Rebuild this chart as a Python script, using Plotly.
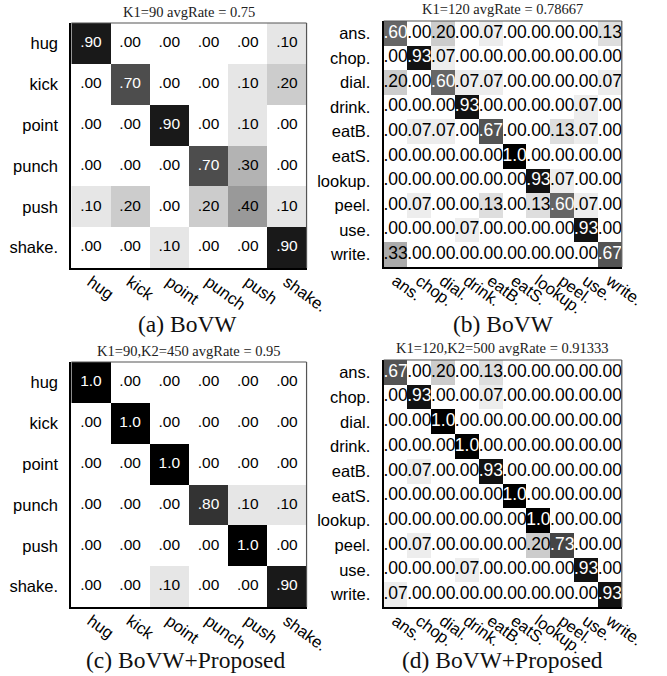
import plotly.graph_objects as go

W, H = 667, 676

labels6 = ['hug', 'kick', 'point', 'punch', 'push', 'shake.']
labels10 = ['ans.', 'chop.', 'dial.', 'drink.', 'eatB.', 'eatS.', 'lookup.', 'peel.', 'use.', 'write.']

mat_a = [
    [.90, .00, .00, .00, .00, .10],
    [.00, .70, .00, .00, .10, .20],
    [.00, .00, .90, .00, .10, .00],
    [.00, .00, .00, .70, .30, .00],
    [.10, .20, .00, .20, .40, .10],
    [.00, .00, .10, .00, .00, .90],
]
mat_b = [
    [.60, .00, .20, .00, .07, .00, .00, .00, .00, .13],
    [.00, .93, .07, .00, .00, .00, .00, .00, .00, .00],
    [.20, .00, .60, .07, .07, .00, .00, .00, .00, .07],
    [.00, .00, .00, .93, .00, .00, .00, .00, .07, .00],
    [.00, .07, .07, .00, .67, .00, .00, .13, .07, .00],
    [.00, .00, .00, .00, .00, 1.0, .00, .00, .00, .00],
    [.00, .00, .00, .00, .00, .00, .93, .07, .00, .00],
    [.00, .07, .00, .00, .13, .00, .13, .60, .07, .00],
    [.00, .00, .00, .07, .00, .00, .00, .00, .93, .00],
    [.33, .00, .00, .00, .00, .00, .00, .00, .00, .67],
]
mat_c = [
    [1.0, .00, .00, .00, .00, .00],
    [.00, 1.0, .00, .00, .00, .00],
    [.00, .00, 1.0, .00, .00, .00],
    [.00, .00, .00, .80, .10, .10],
    [.00, .00, .00, .00, 1.0, .00],
    [.00, .00, .10, .00, .00, .90],
]
mat_d = [
    [.67, .00, .20, .00, .13, .00, .00, .00, .00, .00],
    [.00, .93, .00, .00, .07, .00, .00, .00, .00, .00],
    [.00, .00, 1.0, .00, .00, .00, .00, .00, .00, .00],
    [.00, .00, .00, 1.0, .00, .00, .00, .00, .00, .00],
    [.00, .07, .00, .00, .93, .00, .00, .00, .00, .00],
    [.00, .00, .00, .00, .00, 1.0, .00, .00, .00, .00],
    [.00, .00, .00, .00, .00, .00, 1.0, .00, .00, .00],
    [.00, .07, .00, .00, .00, .00, .20, .73, .00, .00],
    [.00, .00, .00, .07, .00, .00, .00, .00, .93, .00],
    [.07, .00, .00, .00, .00, .00, .00, .00, .00, .93],
]

titles = ['K1=90 avgRate = 0.75', 'K1=120 avgRate = 0.78667',
          'K1=90,K2=450 avgRate = 0.95', 'K1=120,K2=500 avgRate = 0.91333']
captions = ['(a) BoVW', '(b) BoVW', '(c) BoVW+Proposed', '(d) BoVW+Proposed']

# panel boxes in pixels: (x0, x1, ytop, ybottom)
boxes = [(74, 318, 23, 268), (398, 645, 21, 267), (74, 318, 362, 607), (398, 645, 360, 607)]
title_y = [12, 9, 351, 348]
cap_pos = [(195, 324), (522, 324), (193, 660), (521, 660)]

panels = [(mat_a, labels6, 16.5, 15.5), (mat_b, labels10, 16.5, 17.5),
          (mat_c, labels6, 16.5, 15.5), (mat_d, labels10, 16.5, 17.5)]


def fmt(v):
    if v >= 0.995:
        return '1.0'
    return ('%.2f' % v)[1:]


fig = go.Figure()
annotations = []
shapes = []
layout_axes = {}
for i, ((mat, labs, lab_fs, num_fs), (x0, x1, yt, yb)) in enumerate(zip(panels, boxes)):
    n = i + 1
    xa = 'x' if n == 1 else 'x%d' % n
    ya = 'y' if n == 1 else 'y%d' % n
    fig.add_trace(go.Heatmap(
        z=mat, x=labs, y=labs, xaxis=xa, yaxis=ya,
        colorscale=[[0, 'white'], [1, 'black']], zmin=0, zmax=1,
        showscale=False, hoverinfo='skip', xgap=0, ygap=0))
    xs, ys, ts, cs = [], [], [], []
    for r, row in enumerate(mat):
        for c, v in enumerate(row):
            xs.append(labs[c]); ys.append(labs[r]); ts.append(fmt(v))
            cs.append('white' if v >= 0.5 else 'black')
    fig.add_trace(go.Scatter(
        x=xs, y=ys, text=ts, mode='text', xaxis=xa, yaxis=ya,
        textfont=dict(family='Liberation Sans, Arial', size=num_fs, color=cs),
        hoverinfo='skip', showlegend=False))
    xkey = 'xaxis' if n == 1 else 'xaxis%d' % n
    ykey = 'yaxis' if n == 1 else 'yaxis%d' % n
    layout_axes[xkey] = dict(
        domain=[x0 / W, x1 / W], anchor=ya, type='category',
        tickangle=36, showgrid=False, zeroline=False,
        showline=True, linecolor='black', linewidth=2,
        ticks='', ticklabelstandoff=-4,
        tickfont=dict(family='Liberation Sans, Arial', size=lab_fs, color='black'))
    layout_axes[ykey] = dict(
        domain=[1 - yb / H, 1 - yt / H], anchor=xa, type='category',
        autorange='reversed', showgrid=False, zeroline=False,
        showline=True, linecolor='black', linewidth=2,
        ticks='', ticklabelstandoff=8,
        tickfont=dict(family='Liberation Sans, Arial', size=lab_fs, color='black'))
    # top and right borders
    shapes.append(dict(type='line', xref='paper', yref='paper',
                       x0=x0 / W, x1=x1 / W, y0=1 - yt / H, y1=1 - yt / H,
                       line=dict(color='#555', width=1.2)))
    shapes.append(dict(type='line', xref='paper', yref='paper',
                       x0=x1 / W, x1=x1 / W, y0=1 - yt / H, y1=1 - yb / H,
                       line=dict(color='#555', width=1.2)))
    annotations.append(dict(text=titles[i], xref='paper', yref='paper',
                            x=(x0 + x1) / 2 / W, y=1 - title_y[i] / H,
                            xanchor='center', yanchor='middle', showarrow=False,
                            font=dict(family='Liberation Serif, Times New Roman', size=14.5, color='#222')))
    cx, cy = cap_pos[i]
    annotations.append(dict(text=captions[i], xref='paper', yref='paper',
                            x=cx / W, y=1 - cy / H,
                            xanchor='center', yanchor='middle', showarrow=False,
                            font=dict(family='Liberation Serif, Times New Roman', size=23.5, color='#111')))

fig.update_layout(width=W, height=H, margin=dict(l=0, r=0, t=0, b=0),
                  paper_bgcolor='white', plot_bgcolor='white',
                  showlegend=False, annotations=annotations, shapes=shapes,
                  **layout_axes)
fig.write_html('out.html', config={'displayModeBar': False},
               post_script="document.body.style.margin='0px';")
